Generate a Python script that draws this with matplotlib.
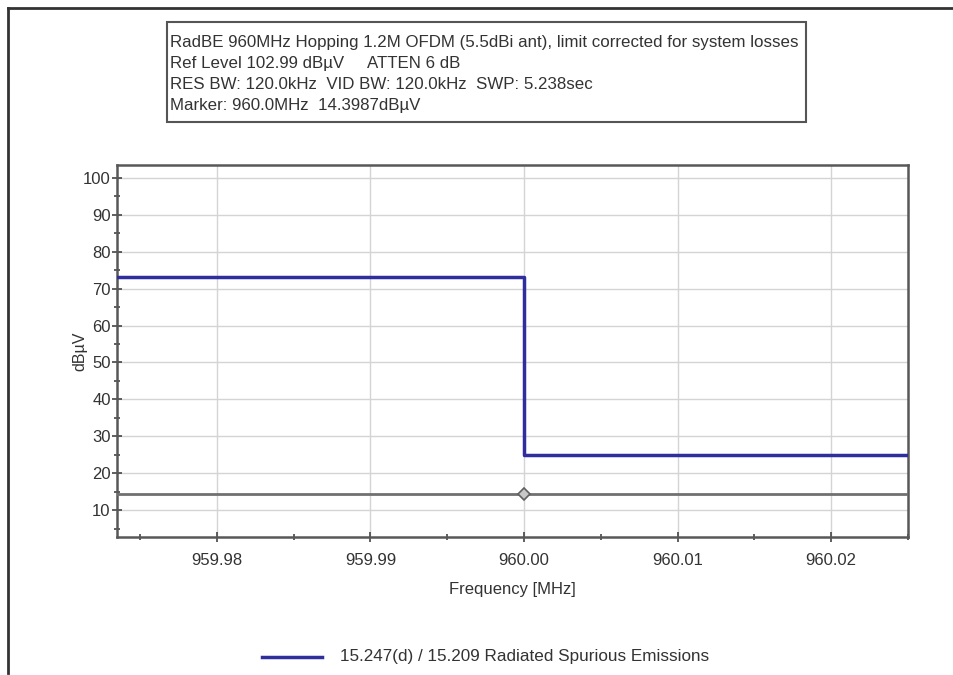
import numpy as np
import matplotlib.pyplot as plt
from matplotlib.patches import Rectangle
from matplotlib.ticker import MultipleLocator, FixedLocator

plt.rcParams['font.family'] = ['Liberation Sans', 'DejaVu Sans']

# limit line (step) and measured trace
limit_freq = [959.9735, 960.00, 960.00, 960.025]
limit_level = [73.2, 73.2, 25.0, 25.0]
marker_freq = 960.00
marker_level = 14.3987
trace_freq = [959.9735, 960.025]
trace_level = [14.4, 14.4]

x_ticks = [959.98, 959.99, 960.00, 960.01, 960.02]
x_labels = ['959.98', '959.99', '960.00', '960.01', '960.02']
y_ticks = [10, 20, 30, 40, 50, 60, 70, 80, 90, 100]

info_lines = [
    'RadBE 960MHz Hopping 1.2M OFDM (5.5dBi ant), limit corrected for system losses',
    'Ref Level 102.99 dB\u00b5V     ATTEN 6 dB',
    'RES BW: 120.0kHz  VID BW: 120.0kHz  SWP: 5.238sec',
    'Marker: 960.0MHz  14.3987dB\u00b5V',
]
legend_label = '15.247(d) / 15.209 Radiated Spurious Emissions'

fig = plt.figure(figsize=(9.54, 6.75), dpi=100)
ax = fig.add_axes([117 / 954, 1 - 537 / 675, 791 / 954, 372 / 675])

ax.set_xlim(959.9735, 960.025)
ax.set_ylim(2.7, 103.5)

ax.plot(trace_freq, trace_level, color='#707070', lw=2, zorder=3)
ax.plot(limit_freq, limit_level, color='#2e2e9c', lw=2.5, zorder=4)
ax.plot([marker_freq], [marker_level], marker='D', ms=6, mfc='#c8c8c8', mec='#606060',
        mew=1.2, zorder=5)

ax.xaxis.set_major_locator(FixedLocator(x_ticks))
ax.set_xticklabels(x_labels)
ax.xaxis.set_minor_locator(FixedLocator([959.975, 959.985, 959.995, 960.005, 960.015, 960.025]))
ax.yaxis.set_major_locator(FixedLocator(y_ticks))
ax.yaxis.set_minor_locator(MultipleLocator(5))

ax.grid(True, which='major', color='#d4d4d4', lw=1)
ax.set_axisbelow(True)
for s in ax.spines.values():
    s.set_color('#585858')
    s.set_linewidth(1.8)
ax.tick_params(which='major', direction='inout', length=7, width=1.2, color='#444444',
               labelsize=12, labelcolor='#333333')
ax.tick_params(axis='x', which='major', pad=8)
ax.tick_params(axis='y', which='major', pad=1)
ax.tick_params(which='minor', direction='inout', length=5, width=1.2, color='#444444')

ax.set_xlabel('Frequency [MHz]', fontsize=12, color='#333333', labelpad=10)
ax.set_ylabel('dB\u00b5V', fontsize=11.5, color='#333333')
ax.yaxis.set_label_coords(-0.037, 0.5)

# info box at top
fig.patches.append(Rectangle((167 / 954, 1 - 122 / 675), 639 / 954, 100 / 675,
                             transform=fig.transFigure, fill=False, ec='#555555', lw=1.5))
for i, line in enumerate(info_lines):
    fig.text(170 / 954, 1 - (42 + i * 21.2) / 675, line, fontsize=12.2, color='#333333',
             va='center', ha='left')

# legend at bottom
fig.add_artist(plt.Line2D([262 / 954, 322 / 954], [1 - 657 / 675, 1 - 657 / 675],
                          transform=fig.transFigure, color='#2e2e9c', lw=2.5))
fig.text(340 / 954, 1 - 657 / 675, legend_label, fontsize=12.3, color='#333333',
         va='center', ha='left')

# outer frame
fig.add_artist(plt.Line2D([8 / 954, 8 / 954], [0.003, 1 - 8 / 675],
                          transform=fig.transFigure, color='#333333', lw=2))
fig.add_artist(plt.Line2D([8 / 954, 1.0], [1 - 8 / 675, 1 - 8 / 675],
                          transform=fig.transFigure, color='#333333', lw=2))

fig.savefig('out.png', dpi=100)
